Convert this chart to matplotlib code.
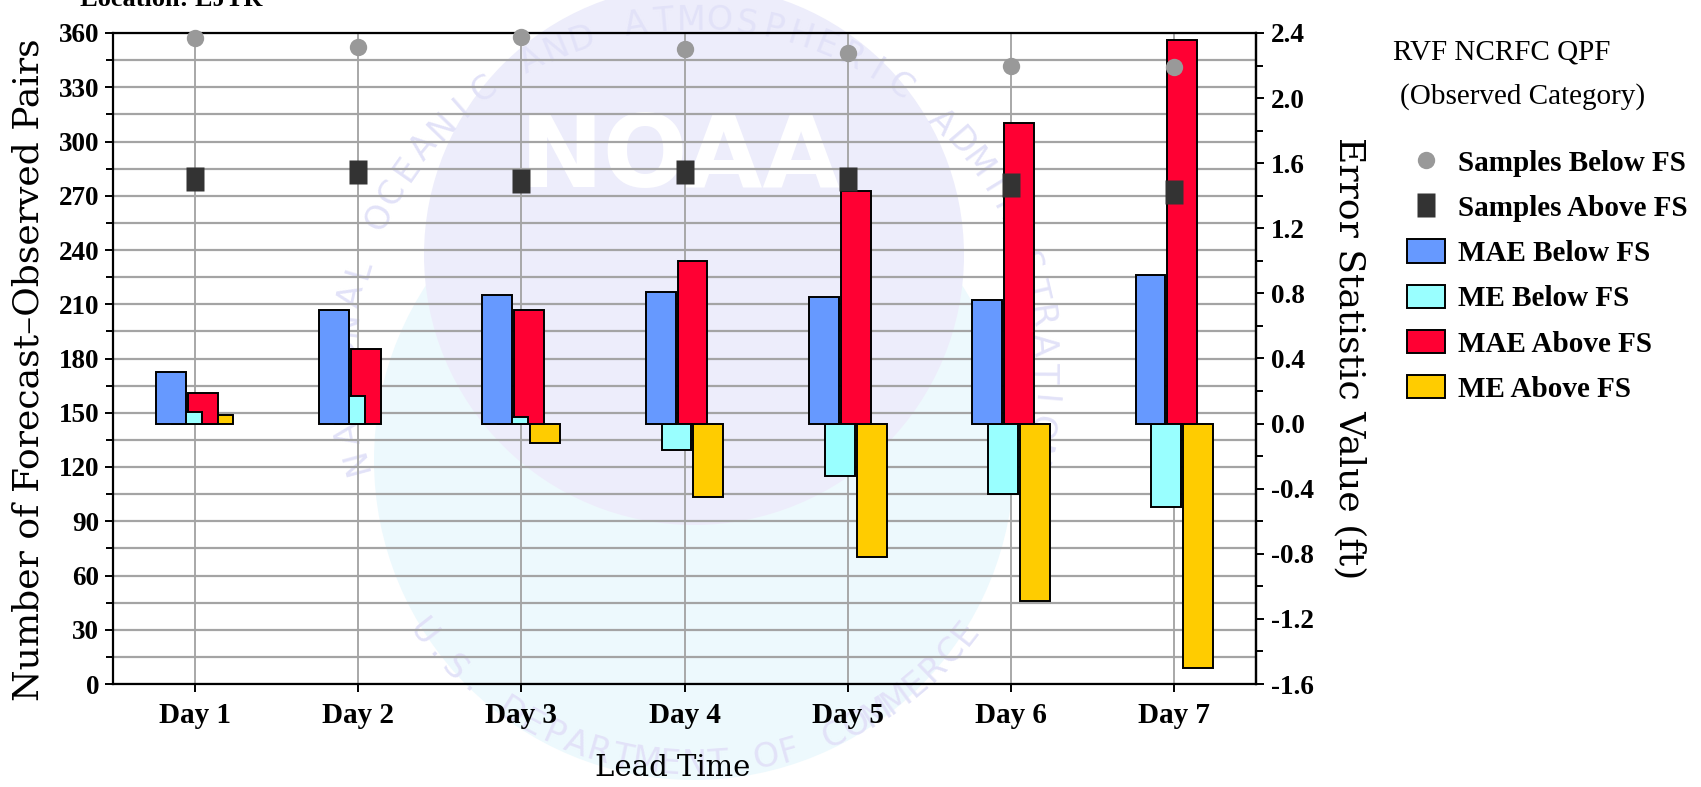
import numpy as np
import matplotlib; matplotlib.use('Agg'); import matplotlib.pyplot as plt
from matplotlib.ticker import MultipleLocator, FormatStrFormatter
from matplotlib.lines import Line2D
import matplotlib.patches as pat

days = ['Day 1', 'Day 2', 'Day 3', 'Day 4', 'Day 5', 'Day 6', 'Day 7']
samples_below = [357, 352, 358, 351, 349, 342, 341]
samples_above = [279, 283, 278, 283, 279, 276, 272]
mae_below = [0.32, 0.70, 0.79, 0.81, 0.78, 0.76, 0.91]
me_below = [0.07, 0.17, 0.04, -0.16, -0.32, -0.43, -0.51]
mae_above = [0.19, 0.46, 0.70, 1.00, 1.43, 1.85, 2.36]
me_above = [0.05, 0.00, -0.12, -0.45, -0.82, -1.09, -1.50]

W, H = 1701, 787
SERIF = 'Liberation Serif'
fig = plt.figure(figsize=(W/100, H/100), dpi=100)

# faint NOAA seal behind everything (pixel coords)
bg = fig.add_axes([0, 0, 1, 1], zorder=0)
bg.set_xlim(0, W); bg.set_ylim(H, 0); bg.axis('off')
bg.add_patch(pat.Circle((694, 460), 320, color='#edf9fd', lw=0))
bg.add_patch(pat.Circle((694, 255), 270, color='#ededfb', lw=0))
bg.text(680, 160, 'NOAA', color='white', fontsize=72, weight='bold', ha='center', va='center',
        family='DejaVu Sans')

def arc_text(s, cx, cy, r, a0, a1, top=True):
    angs = np.linspace(a0, a1, len(s))
    for ch, a in zip(s, angs):
        t = np.radians(a)
        rot = a - 90 if top else a + 90
        bg.text(cx + r*np.cos(t), cy - r*np.sin(t), ch, rotation=rot, ha='center', va='center',
                fontsize=24, color='#e2e2f8', family='DejaVu Sans')

arc_text('NATIONAL OCEANIC AND ATMOSPHERIC ADMINISTRATION', 694, 370, 350, 195, -14)
arc_text('U.S. DEPARTMENT OF COMMERCE', 694, 420, 345, 218, 322, top=False)

rect = [113/W, 1-684/H, (1256-113)/W, (684-33)/H]
x = np.arange(1, len(days)+1)

# count axis: grid + left ticks
axc = fig.add_axes(rect, zorder=1)
axc.patch.set_alpha(0)
axc.set_xlim(0.5, len(days)+0.5)
axc.set_ylim(0, 360)
axc.yaxis.set_major_locator(MultipleLocator(30))
axc.yaxis.set_minor_locator(MultipleLocator(15))
axc.set_xticks(x, days)
axc.grid(which='both', axis='y', color='#a4a4a4', lw=1.6)
axc.grid(axis='x', color='#a8a8a8', lw=1.4)
axc.set_axisbelow(True)
for sp in axc.spines.values():
    sp.set_linewidth(1.6)
axc.tick_params(which='major', length=6, width=1.4, pad=4, labelsize=19.5)
axc.tick_params(which='minor', length=5, width=1.4)
axc.tick_params(axis='x', pad=7, labelsize=21)
for lab in axc.get_xticklabels() + axc.get_yticklabels():
    lab.set_family(SERIF); lab.set_weight('bold')
axc.set_ylabel('Number of Forecast–Observed Pairs', family='DejaVu Serif', fontsize=26, va='center')
axc.yaxis.set_label_coords(-0.0735, 0.483)
axc.set_xlabel('Lead Time', family='DejaVu Serif', fontsize=21, va='center')
axc.xaxis.set_label_coords(0.49, -0.129)

# error axis: bars + right ticks
axe = axc.twinx()
axe.set_ylim(-1.6, 2.4)
axe.yaxis.set_major_locator(MultipleLocator(0.4))
axe.yaxis.set_minor_locator(MultipleLocator(0.2))
axe.yaxis.set_major_formatter(FormatStrFormatter('%.1f'))
for k in ['left', 'top', 'bottom']:
    axe.spines[k].set_visible(False)
axe.spines['right'].set_linewidth(1.6)
axe.tick_params(which='major', length=6, width=1.4, pad=5, labelsize=19.5)
axe.tick_params(which='minor', length=5, width=1.4)
for lab in axe.get_yticklabels():
    lab.set_family(SERIF); lab.set_weight('bold')
axe.set_ylabel('Error Statistic Value (ft)', family='DejaVu Serif', fontsize=26,
               rotation=270, va='center')
axe.yaxis.set_label_coords(1.082, 0.5)

bw = 0.183
def bars(off, vals, col, z):
    lws = [1.4 if v != 0 else 0 for v in vals]
    axe.bar(x + off, vals, width=bw, color=col, edgecolor='black', linewidth=lws, zorder=z)

bars(0.146, me_above, '#ffcc00', 2)
bars(0.049, mae_above, '#ff0033', 3)
bars(-0.049, me_below, '#99ffff', 4)
bars(-0.146, mae_below, '#6699ff', 5)

# sample points on top of the bars
axp = fig.add_axes(rect, sharex=axc, sharey=axc, zorder=1)
axp.axis('off')
sq = [(-0.4, -0.5), (0.4, -0.5), (0.4, 0.5), (-0.4, 0.5)]
axp.plot(x, samples_below, 'o', color='#999999', ms=12.5, mec='none', clip_on=False)
axp.plot(x, samples_above, marker=sq, ls='none', color='#333333', ms=17, mec='none')

fig.text(1393/W, 1-53/H, 'RVF NCRFC QPF', family=SERIF, fontsize=21, va='center', ha='left')
fig.text(1400/W, 1-97/H, '(Observed Category)', family=SERIF, fontsize=21, va='center', ha='left')
fig.text(80/W, 1-6/H, 'Location: EJTR', family=SERIF, fontsize=19, weight='bold', va='baseline')

handles = [
    Line2D([], [], marker='o', ls='none', color='#999999', ms=12.5, mec='none'),
    Line2D([], [], marker=sq, ls='none', color='#333333', ms=17, mec='none'),
    pat.Patch(facecolor='#6699ff', edgecolor='black', lw=1.4),
    pat.Patch(facecolor='#99ffff', edgecolor='black', lw=1.4),
    pat.Patch(facecolor='#ff0033', edgecolor='black', lw=1.4),
    pat.Patch(facecolor='#ffcc00', edgecolor='black', lw=1.4),
]
labels = ['Samples Below FS', 'Samples Above FS', 'MAE Below FS', 'ME Below FS',
          'MAE Above FS', 'ME Above FS']
fig.legend(handles, labels, loc='upper left', bbox_to_anchor=(1407/W, 1-149/H), frameon=False,
           prop={'family': SERIF, 'weight': 'bold', 'size': 21}, handlelength=1.3,
           handleheight=0.85, handletextpad=0.45, borderpad=0, borderaxespad=0, labelspacing=0.6)

fig.savefig('out.png', dpi=100)
